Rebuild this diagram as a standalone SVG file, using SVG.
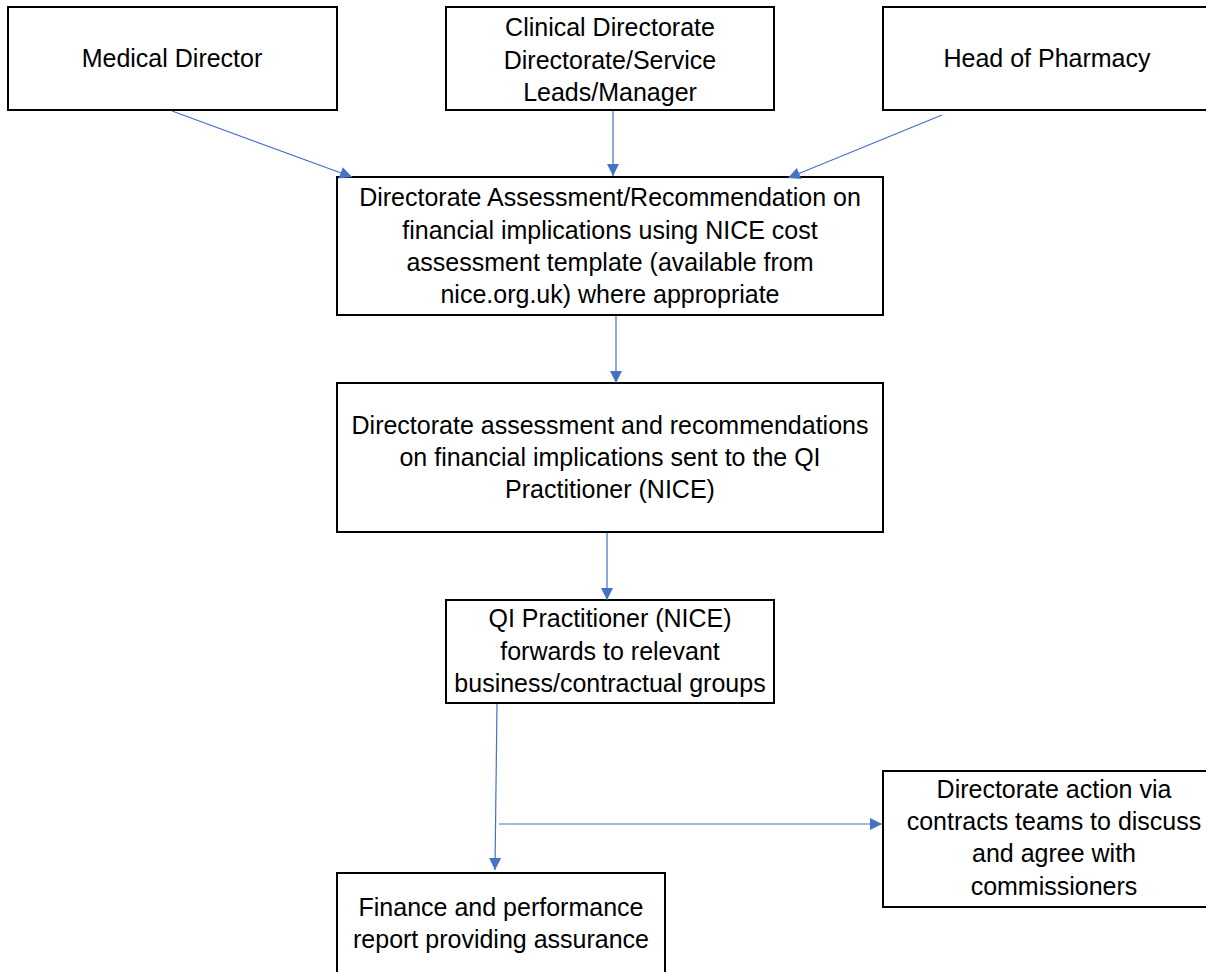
<svg xmlns="http://www.w3.org/2000/svg" width="1206" height="972" viewBox="0 0 1206 972">
<style>
.box{fill:#fff;stroke:#000;stroke-width:2}
.t{font-family:"Liberation Sans",Arial,sans-serif;font-size:25px;fill:#000;text-anchor:middle}
.c{stroke:#4472C4;stroke-width:1.2;fill:none;marker-end:url(#ah)}
</style>
<defs>
<marker id="ah" markerUnits="userSpaceOnUse" markerWidth="14" markerHeight="14" viewBox="0 0 14 14" refX="13" refY="7" orient="auto">
<path d="M1,1 L13,7 L1,13 Z" fill="#4472C4"/>
</marker>
</defs>
<rect width="1206" height="972" fill="#fff"/>
<g id="medical-director">
<rect class="box" x="8" y="7" width="329" height="103"/>
<text class="t" x="172" y="67">Medical Director</text>
</g>
<g id="clinical-directorate">
<rect class="box" x="446" y="7" width="328" height="103"/>
<text class="t" x="610" y="36">Clinical Directorate</text>
<text class="t" x="610" y="69">Directorate/Service</text>
<text class="t" x="610" y="101">Leads/Manager</text>
</g>
<g id="head-of-pharmacy">
<rect class="box" x="883" y="7" width="340" height="103"/>
<text class="t" x="1047" y="67">Head of Pharmacy</text>
</g>
<g id="directorate-assessment">
<rect class="box" x="337" y="177" width="546" height="138"/>
<text class="t" x="610" y="206">Directorate Assessment/Recommendation on</text>
<text class="t" x="610" y="239">financial implications using NICE cost</text>
<text class="t" x="610" y="271">assessment template (available from</text>
<text class="t" x="610" y="303">nice.org.uk) where appropriate</text>
</g>
<g id="assessment-sent">
<rect class="box" x="337" y="383" width="546" height="149"/>
<text class="t" x="610" y="434">Directorate assessment and recommendations</text>
<text class="t" x="610" y="466">on financial implications sent to the QI</text>
<text class="t" x="610" y="498">Practitioner (NICE)</text>
</g>
<g id="qi-practitioner">
<rect class="box" x="446" y="600" width="328" height="103"/>
<text class="t" x="610" y="627">QI Practitioner (NICE)</text>
<text class="t" x="610" y="660">forwards to relevant</text>
<text class="t" x="610" y="692">business/contractual groups</text>
</g>
<g id="directorate-action">
<rect class="box" x="883" y="771" width="342" height="136"/>
<text class="t" x="1054" y="798">Directorate action via</text>
<text class="t" x="1054" y="830">contracts teams to discuss</text>
<text class="t" x="1054" y="862">and agree with</text>
<text class="t" x="1054" y="895">commissioners</text>
</g>
<g id="finance-report">
<rect class="box" x="337" y="873" width="328" height="110"/>
<text class="t" x="501" y="916">Finance and performance</text>
<text class="t" x="501" y="948">report providing assurance</text>
</g>
<g id="connectors">
<line class="c" x1="172" y1="111" x2="352" y2="177"/>
<line class="c" x1="613" y1="111" x2="613" y2="176"/>
<line class="c" x1="942" y1="115" x2="788" y2="178"/>
<line class="c" x1="616" y1="316" x2="616" y2="383"/>
<line class="c" x1="607" y1="533" x2="607" y2="600"/>
<line class="c" x1="497" y1="704" x2="495" y2="870"/>
<line class="c" x1="499" y1="824" x2="882" y2="824"/>
</g>
</svg>
